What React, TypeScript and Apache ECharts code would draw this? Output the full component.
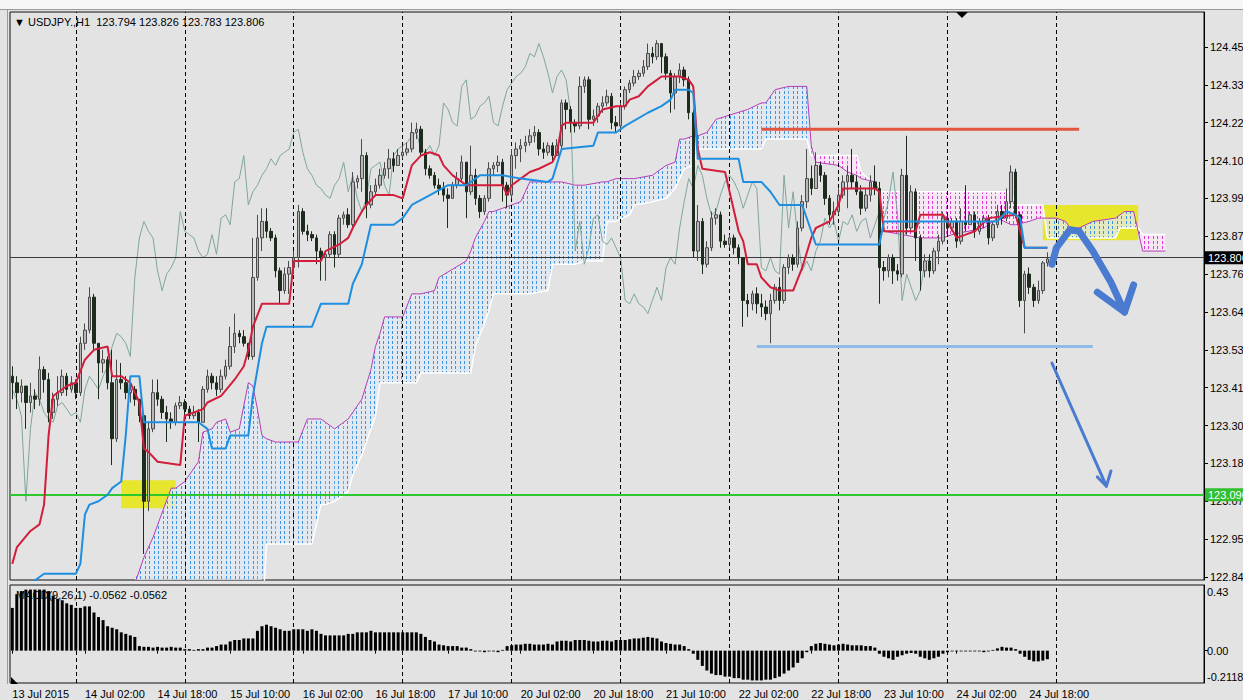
import { useEffect, useRef } from 'react';
import * as echarts from 'echarts';

const FONT = 'Liberation Sans, Arial, sans-serif';
const symbolName = 'USDJPY.,H1';
const firstBarTime = Date.UTC(2015, 6, 13, 10, 0);
const futureSlots = 34;
const firstOpen = 123.45;

const closes = [
  123.43,123.40,123.42,123.37,123.39,123.38,123.47,123.44,123.34,123.38,
  123.40,123.45,123.41,123.43,123.40,123.55,123.59,123.69,123.55,123.49,
  123.50,123.43,123.26,123.44,123.43,123.40,123.41,123.38,123.33,123.07,
  123.29,123.40,123.38,123.34,123.32,123.31,123.36,123.37,123.35,123.33,
  123.34,123.31,123.41,123.45,123.43,123.41,123.45,123.48,123.54,123.58,
  123.57,123.55,123.51,123.75,123.87,123.92,123.89,123.87,123.77,123.71,
  123.76,123.78,123.81,123.95,123.89,123.88,123.87,123.83,123.81,123.82,
  123.88,123.82,123.93,123.94,123.91,124.04,124.05,124.12,123.97,124.01,
  124.03,124.06,124.08,124.11,124.09,124.12,124.13,124.14,124.19,124.20,
  124.13,124.08,124.06,124.03,124.02,124.00,123.99,124.03,124.05,124.10,
  124.01,124.06,123.99,123.95,123.99,124.08,124.09,124.10,124.03,124.00,
  124.12,124.14,124.15,124.16,124.18,124.19,124.14,124.13,124.15,124.12,
  124.15,124.28,124.26,124.22,124.21,124.33,124.35,124.23,124.24,124.27,
  124.28,124.30,124.22,124.21,124.27,124.32,124.34,124.36,124.37,124.39,
  124.43,124.42,124.46,124.42,124.37,124.31,124.36,124.38,124.35,124.25,
  123.83,123.92,123.79,123.84,123.93,123.94,123.86,123.85,123.87,123.84,
  123.81,123.68,123.67,123.70,123.67,123.66,123.64,123.68,123.72,123.68,
  123.78,123.81,123.79,123.90,123.98,124.05,124.02,124.09,124.06,123.99,
  123.94,123.95,124.00,124.04,124.06,124.04,124.01,123.96,124.00,124.04,
  124.02,123.78,123.77,123.81,123.77,123.76,124.06,123.90,124.01,123.87,
  123.77,123.80,123.77,123.83,123.86,123.93,123.90,123.92,123.86,123.92,
  123.91,123.94,123.89,123.92,123.93,123.87,123.91,123.95,123.93,123.98,
  124.07,123.94,123.68,123.76,123.72,123.68,123.71,123.794,123.806,
];

const highs = [
  123.48,123.45,123.44,123.42,123.43,123.41,123.51,123.48,123.46,123.40,
  123.45,123.47,123.46,123.45,123.44,123.57,123.61,123.72,123.70,123.55,
  123.53,123.51,123.53,123.50,123.49,123.45,123.43,123.42,123.38,123.34,
  123.31,123.44,123.44,123.39,123.36,123.34,123.37,123.39,123.38,123.36,
  123.36,123.35,123.42,123.47,123.46,123.45,123.47,123.50,123.60,123.64,
  123.59,123.59,123.55,123.87,123.94,123.96,123.96,123.90,123.88,123.78,
  123.78,123.80,123.83,123.97,123.96,123.91,123.89,123.88,123.84,123.83,
  123.89,123.89,123.94,123.95,123.96,124.07,124.06,124.17,124.13,124.03,
  124.05,124.08,124.10,124.14,124.13,124.14,124.15,124.16,124.22,124.22,
  124.21,124.14,124.09,124.07,124.05,124.04,124.02,124.04,124.07,124.12,
  124.10,124.15,124.08,124.00,124.00,124.10,124.10,124.12,124.11,124.04,
  124.14,124.16,124.17,124.18,124.20,124.21,124.20,124.16,124.16,124.16,
  124.17,124.29,124.29,124.27,124.23,124.36,124.36,124.36,124.26,124.28,
  124.30,124.32,124.31,124.24,124.28,124.33,124.35,124.38,124.38,124.41,
  124.46,124.45,124.47,124.46,124.43,124.38,124.37,124.40,124.39,124.36,
  124.26,123.97,123.93,123.86,123.95,123.96,123.95,123.88,123.88,123.88,
  123.85,123.81,123.70,123.71,123.72,123.70,123.68,123.70,123.73,123.75,
  123.79,123.82,123.82,123.92,124.00,124.14,124.09,124.13,124.10,124.07,
  124.00,123.98,124.02,124.06,124.09,124.14,124.06,124.03,124.02,124.06,
  124.09,124.04,123.80,123.82,123.82,123.79,124.08,124.18,124.03,124.02,
  123.88,123.82,123.82,123.84,123.88,123.95,123.94,123.93,123.93,123.96,
  124.03,123.95,123.95,123.93,123.94,123.94,123.92,123.97,123.97,124.02,
  124.09,124.08,123.95,123.77,123.78,123.73,123.74,123.80,123.826,
];

const lows = [
  123.38,123.35,123.37,123.29,123.34,123.35,123.36,123.40,123.31,123.32,
  123.36,123.39,123.39,123.40,123.38,123.39,123.53,123.58,123.53,123.38,
  123.46,123.41,123.18,123.25,123.41,123.38,123.37,123.36,123.31,122.91,
  123.04,123.28,123.36,123.32,123.25,123.29,123.30,123.35,123.33,123.32,
  123.32,123.25,123.31,123.40,123.41,123.39,123.40,123.44,123.47,123.52,
  123.55,123.54,123.50,123.50,123.74,123.83,123.87,123.86,123.75,123.67,
  123.70,123.70,123.76,123.78,123.88,123.86,123.86,123.79,123.74,123.74,
  123.81,123.78,123.81,123.91,123.90,123.90,124.02,124.01,123.93,123.96,
  124.00,124.02,124.05,124.05,124.07,124.09,124.11,124.12,124.13,124.17,
  124.12,124.06,124.05,124.02,124.00,123.98,123.90,123.99,124.02,124.04,
  123.93,124.00,123.97,123.93,123.94,123.98,124.06,124.07,123.98,123.96,
  123.99,124.08,124.10,124.13,124.15,124.16,124.12,124.11,124.12,124.10,
  124.12,124.14,124.20,124.19,124.19,124.20,124.31,124.20,124.21,124.22,
  124.25,124.27,124.20,124.19,124.20,124.26,124.31,124.33,124.35,124.36,
  124.38,124.40,124.41,124.37,124.35,124.25,124.26,124.34,124.33,124.23,
  123.81,123.80,123.76,123.78,123.83,123.91,123.84,123.84,123.84,123.82,
  123.79,123.60,123.63,123.65,123.64,123.63,123.62,123.55,123.67,123.65,
  123.67,123.76,123.77,123.78,123.89,123.96,124.00,124.02,124.04,123.97,
  123.91,123.91,123.94,123.99,123.96,124.02,124.00,123.94,123.95,123.98,
  124.00,123.67,123.74,123.75,123.73,123.74,123.75,123.88,123.89,123.80,
  123.71,123.75,123.75,123.76,123.79,123.85,123.88,123.89,123.84,123.85,
  123.89,123.91,123.87,123.88,123.90,123.85,123.86,123.90,123.91,123.92,
  123.96,123.93,123.66,123.58,123.70,123.66,123.67,123.70,123.783,
];

const macd = [
  0.28,0.37,0.39,0.40,0.40,0.40,0.40,0.40,0.39,0.36,0.34,0.33,0.31,0.30,
  0.28,0.28,0.29,0.29,0.25,0.22,0.20,0.16,0.15,0.14,0.12,0.11,0.10,0.09,
  0.03,0.025,0.025,0.02,0.025,0.02,0.02,0.025,0.02,0.02,0.01,0.01,0.005,0.01,0.01,
  0.02,0.02,0.03,0.04,0.04,0.06,0.07,0.07,0.08,0.08,0.08,
  0.13,0.16,0.17,0.16,0.15,0.14,0.13,0.13,
  0.14,0.14,0.14,0.13,0.14,0.13,0.11,0.10,0.10,0.10,0.10,0.10,0.11,0.11,
  0.12,0.12,0.12,0.13,0.12,0.12,0.12,0.12,0.12,0.12,0.12,0.12,0.12,0.12,0.11,
  0.09,0.07,0.06,0.04,0.035,0.03,0.03,0.03,0.02,0.02,0.01,
  -0.005,-0.005,-0.01,-0.005,-0.005,-0.01,0.005,
  0.03,0.035,0.04,0.04,0.045,0.045,0.04,0.04,0.04,0.045,0.04,
  0.06,0.065,0.065,0.06,0.07,0.07,0.07,0.065,0.06,0.06,0.065,0.065,0.06,0.07,0.07,
  0.07,0.075,0.08,0.08,0.085,0.09,0.085,0.08,0.06,0.05,0.045,0.04,0.04,0.03,0.01,
  -0.02,-0.06,-0.10,-0.13,-0.15,-0.16,-0.16,-0.17,
  -0.17,-0.18,-0.18,-0.19,-0.19,-0.195,-0.195,-0.195,-0.19,-0.19,-0.18,-0.17,-0.15,-0.13,-0.11,-0.08,-0.05,-0.01,
  0.03,0.045,0.05,0.045,0.04,0.035,
  0.04,0.045,0.04,0.035,0.035,0.035,0.03,0.03,0.02,
  -0.02,-0.04,-0.05,-0.06,-0.04,-0.03,-0.02,
  -0.015,-0.02,-0.04,-0.05,-0.06,-0.05,-0.04,
  -0.02,-0.01,-0.005,-0.005,-0.005,-0.005,-0.005,-0.005,-0.005,-0.01,-0.005,0.005,
  0.015,0.025,0.02,0.02,0.01,
  -0.02,-0.04,-0.06,-0.07,-0.07,-0.065,-0.0562,
];
const macdName = 'MACD(9,26,1)';

const tenkan = [
  [0,122.88],[1,122.93],[4,122.98],[6,123.00],[7,123.06],[8,123.27],[9,123.39],[12,123.42],[14,123.43],[16,123.50],
  [18,123.53],[21,123.54],[22,123.45],[24,123.45],[26,123.43],[28,123.37],[29,123.23],[30,123.22],[32,123.19],[37,123.18],
  [38,123.33],[42,123.35],[43,123.37],[46,123.39],[49,123.44],[51,123.48],[52,123.53],[53,123.60],[55,123.67],[61,123.67],
  [62,123.80],[68,123.80],[69,123.83],[72,123.85],[74,123.87],[75,123.90],[77,123.95],[78,123.97],[80,124.00],[84,124.00],
  [86,123.99],[88,124.09],[90,124.12],[92,124.13],[94,124.12],[95,124.09],[97,124.06],[98,124.05],[100,124.03],[108,124.03],
  [109,124.00],[110,124.03],[112,124.05],[114,124.07],[116,124.08],[119,124.10],[120,124.13],[121,124.21],[122,124.22],[128,124.22],
  [129,124.24],[130,124.26],[133,124.27],[135,124.27],[136,124.29],[138,124.30],[140,124.33],[142,124.35],[143,124.36],[147,124.36],
  [149,124.35],[150,124.33],[151,124.14],[152,124.08],[157,124.07],[158,124.01],[160,123.89],[161,123.86],[162,123.79],[164,123.79],
  [165,123.75],[167,123.72],[169,123.71],[172,123.71],[174,123.78],[176,123.87],[177,123.90],[180,123.92],[182,123.97],[183,124.02],
  [190,124.02],[191,124.01],[192,123.89],[199,123.89],[200,123.94],[205,123.94],[206,123.92],[208,123.87],[210,123.88],[212,123.89],
  [215,123.93],[221,123.94],[223,123.84],[228,123.84],
];

const kijun = [
  [0,122.81],[4,122.82],[7,122.85],[14,122.85],[15,122.88],[16,123.03],[17,123.06],[19,123.07],[21,123.09],[22,123.11],
  [24,123.13],[25,123.27],[26,123.45],[28,123.45],[29,123.31],[41,123.31],[43,123.29],[44,123.23],[47,123.23],[48,123.27],
  [52,123.27],[53,123.39],[55,123.55],[56,123.60],[66,123.60],[68,123.67],[74,123.67],[75,123.73],[77,123.79],[78,123.85],
  [79,123.91],[84,123.91],[86,123.93],[88,123.97],[92,124.00],[96,124.03],[100,124.03],[103,124.06],[108,124.06],[112,124.05],
  [118,124.04],[119,124.05],[121,124.14],[128,124.15],[129,124.19],[133,124.19],[135,124.21],[140,124.25],[143,124.27],[145,124.29],
  [146,124.32],[149,124.32],[150,124.31],[151,124.11],[160,124.11],[161,124.04],[165,124.04],[167,124.01],[169,123.97],[174,123.97],
  [177,123.85],[191,123.85],[192,123.92],[217,123.92],[219,123.95],[221,123.94],[222,123.93],[223,123.84],[228,123.84],
];

const cloudBars = [
  26,27,29,31,35,36,38,41,42,44,
  45,47,48,50,52,53,54,55,56,58,
  63,65,66,68,69,71,73,74,75,77,
  79,80,81,82,86,88,89,90,93,94,
  100,101,102,104,105,106,108,110,112,114,
  118,119,121,124,126,130,131,133,136,137,
  141,144,146,147,148,150,151,153,155,162,
  165,166,168,171,175,176,177,182,184,186,
  187,190,191,192,196,200,205,207,214,217,
  220,221,224,226,227,228,230,232,233,235,
  238,243,244,245,247,248,249,254,
];
const spanA = [
  122.70,122.82,122.90,122.96,123.11,123.11,123.13,123.19,123.28,123.29,
  123.31,123.32,123.28,123.29,123.43,123.42,123.35,123.27,123.26,123.25,
  123.25,123.32,123.32,123.32,123.31,123.29,123.31,123.32,123.34,123.38,
  123.47,123.54,123.58,123.63,123.63,123.70,123.70,123.70,123.71,123.75,
  123.80,123.83,123.87,123.92,123.95,123.95,123.96,123.97,123.98,124.04,
  124.04,124.04,124.04,124.03,124.03,124.04,124.04,124.05,124.05,124.05,
  124.06,124.09,124.10,124.17,124.17,124.18,124.18,124.19,124.23,124.26,
  124.28,124.28,124.32,124.33,124.33,124.15,124.10,124.09,124.07,124.06,
  124.05,124.04,124.01,123.89,123.88,123.87,123.87,123.88,123.90,123.93,
  123.91,123.91,123.92,123.93,123.93,123.93,123.93,123.92,123.90,123.90,
  123.92,123.93,123.94,123.95,123.95,123.89,123.83,123.83,
];
const spanB = [
  122.70,122.70,122.70,122.70,122.70,122.70,122.70,122.70,122.70,122.70,
  122.70,122.70,122.70,122.70,122.70,122.70,122.70,122.70,122.94,122.94,
  122.94,122.94,122.94,123.06,123.06,123.07,123.09,123.10,123.15,123.21,
  123.29,123.33,123.43,123.43,123.43,123.43,123.43,123.46,123.46,123.46,
  123.46,123.46,123.54,123.61,123.65,123.70,123.70,123.70,123.70,123.70,
  123.71,123.79,123.79,123.79,123.80,123.80,123.92,123.92,123.94,123.97,
  123.98,123.99,124.02,124.05,124.08,124.09,124.14,124.14,124.14,124.14,
  124.14,124.17,124.17,124.17,124.17,124.12,124.12,124.12,124.12,124.12,
  124.07,124.03,124.01,124.01,124.01,124.01,124.01,124.01,124.01,124.01,
  124.01,123.97,123.97,123.97,123.97,123.87,123.87,123.87,123.87,123.87,
  123.87,123.87,123.90,123.90,123.90,123.90,123.88,123.88,
];
const chikouShift = 26;

const priceTicks = [122.840,122.955,123.070,123.185,123.300,123.415,123.530,123.645,123.760,123.875,123.990,124.105,124.220,124.335,124.450];
const priceMin = 122.831;
const priceMax = 124.556;
const macdMax = 0.43;
const macdMin = -0.2118;
const macdTicks = [macdMax, 0, macdMin];
const firstLabel = '13 Jul 2015';
const xTickLabels = ['14 Jul 02:00','14 Jul 18:00','15 Jul 10:00','16 Jul 02:00','16 Jul 18:00','17 Jul 10:00','20 Jul 02:00','20 Jul 18:00','21 Jul 10:00','22 Jul 02:00','22 Jul 18:00','23 Jul 10:00','24 Jul 02:00','24 Jul 18:00'];

const greenLevel = 123.09;
const redLevel = [[165,124.20],[235,124.20]];
const blueLevel = [[164,123.54],[238,123.54]];
const yellowBoxA = [[24,123.134],[36,123.049]];
const yellowBoxB = [[227,123.970],[248,123.863]];
const curveArrow = [[229,123.79],[230,123.84],[233,123.895],[235,123.89],[238,123.83],[242,123.735],[245,123.645]];
const curveHead = [[239,123.705],[245,123.645],[247,123.727]];
const straightArrow = [[229,123.49],[241,123.116]];
const straightHead = [[239,123.144],[241,123.116],[242,123.162]];

const MONTHS = ['Jan','Feb','Mar','Apr','May','Jun','Jul','Aug','Sep','Oct','Nov','Dec'];
function buildCategories(n: number): string[] {
  const out: string[] = [];
  let t = firstBarTime;
  while (out.length < n) {
    const d = new Date(t);
    const wd = d.getUTCDay();
    if (wd !== 0 && wd !== 6) {
      const hh = String(d.getUTCHours()).padStart(2, '0');
      out.push(`${d.getUTCDate()} ${MONTHS[d.getUTCMonth()]} ${hh}:00`);
    }
    t += 3600000;
  }
  return out;
}

function dotPattern(bg: string, dot: string) {
  const w = 9, h = 5;
  const c = document.createElement('canvas');
  c.width = w; c.height = h;
  const g = c.getContext('2d')!;
  g.clearRect(0, 0, w, h);
  g.fillStyle = bg; g.fillRect(0, 0, w, h);
  g.fillStyle = dot;
  g.fillRect(1, 1, 1, 3);
  g.fillRect(5, 1, 1, 3);
  return { image: c.toDataURL(), repeat: 'repeat', imageWidth: w, imageHeight: h };
}

export default function App() {
  const ref = useRef<HTMLDivElement>(null);
  useEffect(() => {
    if (!ref.current) return;
    const chart = echarts.init(ref.current, null, { renderer: 'svg' });
    const n = closes.length;
    const categories = buildCategories(n + futureSlots);
    const tickSet = new Set(xTickLabels);
    const showLabel = (idx: number, val: string) => idx === 0 || tickSet.has(val);
    const dayIdx = categories.map((c, i) => (c.endsWith(' 00:00') && i <= n + 1 ? i : -1)).filter((i) => i >= 0);
    const candles = closes.map((c, i) => [i === 0 ? firstOpen : closes[i - 1], c, lows[i], highs[i]]);
    const chikou = closes.slice(chikouShift).map((c, i) => [i, c]);
    const segs = cloudBars.slice(0, -1).map((b, k) => [b, spanA[k], spanB[k], cloudBars[k + 1], spanA[k + 1], spanB[k + 1]]);
    const bluePat = dotPattern('rgba(226,234,244,0.75)', '#3f93de');
    const pinkPat = dotPattern('rgba(250,232,248,0.85)', '#e23ad6');
    const lastOpen = closes[n - 2];
    const title = `▼ ${symbolName}  ${[lastOpen, highs[n - 1], lows[n - 1], closes[n - 1]].map((v) => v.toFixed(3)).join(' ')}`;
    const lastMacd = macd[macd.length - 1].toFixed(4);
    const dayLine = (xi: number, yi: number) => ({
      type: 'line', xAxisIndex: xi, yAxisIndex: yi, data: [], z: 1, silent: true,
      markLine: {
        symbol: 'none', silent: true, animation: false, label: { show: false },
        lineStyle: { color: '#000', type: [4, 3], width: 1 },
        data: dayIdx.map((i) => ({ xAxis: categories[i] })),
      },
    });
    const macdFmt = (v: number) => {
      if (Math.abs(v - macdMax) < 1e-9) return `{t|${v}}`;
      if (Math.abs(v - macdMin) < 1e-9) return `{b|${v}}`;
      return '0.00';
    };

    const option: any = {
      animation: false,
      backgroundColor: '#e3e3e3',
      textStyle: { fontFamily: FONT, fontSize: 11, color: '#000' },
      grid: [
        { left: 10, right: 39, top: 12, height: 568, outerBoundsMode: 'none', containLabel: false, show: true, backgroundColor: '#e3e3e3', borderColor: '#111', borderWidth: 1 },
        { left: 10, right: 39, top: 585, height: 98, outerBoundsMode: 'none', containLabel: false, show: true, backgroundColor: '#e3e3e3', borderColor: '#111', borderWidth: 1 },
      ],
      xAxis: [
        { type: 'category', gridIndex: 0, data: categories, axisLine: { show: false }, axisTick: { show: false }, axisLabel: { show: false }, splitLine: { show: false } },
        {
          type: 'category', gridIndex: 1, data: categories, axisLine: { show: false },
          axisTick: { show: true, interval: showLabel, alignWithLabel: true, length: 3, lineStyle: { color: '#000' } },
          axisLabel: { interval: showLabel, formatter: (v: string, i: number) => (i === 0 ? firstLabel : v), align: 'left', margin: 5, color: '#000', fontSize: 11, fontFamily: FONT },
          splitLine: { show: false },
        },
      ],
      yAxis: [
        {
          type: 'value', gridIndex: 0, position: 'right', min: priceMin, max: priceMax,
          axisLine: { show: true, lineStyle: { color: '#000' } },
          axisTick: { show: true, customValues: priceTicks, length: 4, lineStyle: { color: '#000' } },
          axisLabel: { customValues: priceTicks, formatter: (v: number) => v.toFixed(3), margin: 6, color: '#000', fontSize: 11, fontFamily: FONT },
          splitLine: { show: false },
        },
        {
          type: 'value', gridIndex: 1, position: 'right', min: macdMin, max: macdMax,
          axisLine: { show: true, lineStyle: { color: '#000' } },
          axisTick: { show: true, customValues: [0], length: 4, lineStyle: { color: '#000' } },
          axisLabel: {
            customValues: macdTicks, formatter: macdFmt, margin: 3, color: '#000', fontSize: 11, fontFamily: FONT,
            rich: {
              t: { fontSize: 11, fontFamily: FONT, color: '#000', padding: [14, 0, 0, 0] },
              b: { fontSize: 11, fontFamily: FONT, color: '#000', padding: [0, 0, 12, 0] },
            },
          },
          splitLine: { show: false },
        },
      ],
      graphic: [
        { type: 'rect', z: 100, shape: { x: 0, y: 0, width: 1243, height: 9 }, style: { fill: '#f6f6f6' } },
        { type: 'line', z: 100, shape: { x1: 0, y1: 9.5, x2: 1243, y2: 9.5 }, style: { stroke: '#9a9a9a', lineWidth: 1 } },
        { type: 'line', z: 100, shape: { x1: 7.5, y1: 9, x2: 7.5, y2: 684 }, style: { stroke: '#9a9a9a', lineWidth: 1 } },
        { type: 'text', z: 100, x: 14, y: 16, style: { text: title, font: `11px ${FONT}`, fill: '#000' } },
        { type: 'text', z: 1, x: 16, y: 589, style: { text: `${macdName} ${lastMacd} ${lastMacd}`, font: `11px ${FONT}`, fill: '#000' } },
        { type: 'polygon', z: 100, shape: { points: [[956, 12], [968, 12], [962, 18]] }, style: { fill: '#000' } },
        { type: 'polygon', z: 100, shape: { points: [[11, 677], [11, 684], [18, 684]] }, style: { fill: '#000' } },
      ],
      series: [
        dayLine(0, 0),
        dayLine(1, 1),
        {
          type: 'line', xAxisIndex: 0, yAxisIndex: 0, data: [], z: 2, silent: true,
          markArea: {
            silent: true, itemStyle: { color: '#e6e62c' },
            data: [yellowBoxA, yellowBoxB].map(([a, b]) => [{ coord: [categories[a[0]], a[1]] }, { coord: [categories[b[0]], b[1]] }]),
          },
        },
        {
          type: 'custom', xAxisIndex: 0, yAxisIndex: 0, z: 3, silent: true, clip: true,
          data: segs,
          encode: { x: [0, 3], y: [1, 2, 4, 5] },
          renderItem: (params: any, api: any) => {
            const cs = params.coordSys;
            const top = cs.y, bot = cs.y + cs.height;
            const cl = (p: number[]) => [p[0], Math.max(top, Math.min(bot, p[1]))];
            const x0 = api.value(0), a0 = api.value(1), b0 = api.value(2);
            const x1 = api.value(3), a1 = api.value(4), b1 = api.value(5);
            const A0 = api.coord([x0, a0]), B0 = api.coord([x0, b0]);
            const A1 = api.coord([x1, a1]), B1 = api.coord([x1, b1]);
            const d0 = a0 - b0, d1 = a1 - b1;
            const children: any[] = [];
            const poly = (pts: number[][], bull: boolean) => children.push({
              type: 'polygon', shape: { points: pts.map(cl) },
              style: { fill: bull ? bluePat : pinkPat, stroke: null },
            });
            if (d0 * d1 >= 0) {
              poly([A0, A1, B1, B0], d0 + d1 >= 0);
            } else {
              const t = d0 / (d0 - d1);
              const M = [A0[0] + t * (A1[0] - A0[0]), A0[1] + t * (A1[1] - A0[1])];
              poly([A0, M, B0], d0 > 0);
              poly([M, A1, B1], d1 > 0);
            }
            return { type: 'group', children };
          },
        },
        {
          type: 'line', xAxisIndex: 0, yAxisIndex: 0, z: 4, silent: true, symbol: 'none',
          data: cloudBars.map((b, k) => [b, spanB[k]]), lineStyle: { color: '#ffffff', width: 1.5 },
        },
        {
          type: 'line', xAxisIndex: 0, yAxisIndex: 0, z: 4, silent: true, symbol: 'none',
          data: cloudBars.map((b, k) => [b, spanA[k]]), lineStyle: { color: '#b83cb8', width: 1 },
        },
        {
          type: 'line', xAxisIndex: 0, yAxisIndex: 0, z: 4, silent: true, symbol: 'none',
          data: chikou, lineStyle: { color: '#7ea69e', width: 1 },
        },
        {
          type: 'candlestick', xAxisIndex: 0, yAxisIndex: 0, z: 5, silent: true, barWidth: 3,
          data: candles,
          itemStyle: { color: '#b8b8b8', color0: '#1e2c1e', borderColor: '#4a4a4a', borderColor0: '#1e2c1e', borderWidth: 1 },
        },
        {
          type: 'line', xAxisIndex: 0, yAxisIndex: 0, z: 6, silent: true, symbol: 'none',
          data: tenkan, lineStyle: { color: '#d21e3c', width: 2 },
        },
        {
          type: 'line', xAxisIndex: 0, yAxisIndex: 0, z: 6, silent: true, symbol: 'none',
          data: kijun, lineStyle: { color: '#1e8fe0', width: 2 },
        },
        {
          type: 'line', xAxisIndex: 0, yAxisIndex: 0, data: [], z: 7, silent: true,
          markLine: {
            symbol: 'none', silent: true,
            data: [
              {
                yAxis: closes[n - 1], lineStyle: { color: '#3a3a3a', width: 1, type: 'solid' },
                label: { show: true, position: 'end', distance: 1, formatter: closes[n - 1].toFixed(3), color: '#fff', backgroundColor: '#000', padding: [1, 3, 1, 3], fontSize: 11, fontFamily: FONT },
              },
              {
                yAxis: greenLevel, lineStyle: { color: '#2ec82e', width: 2, type: 'solid' },
                label: { show: true, position: 'end', distance: 1, formatter: greenLevel.toFixed(3), color: '#fff', backgroundColor: '#2fbf2f', padding: [1, 3, 1, 3], fontSize: 11, fontFamily: FONT },
              },
            ],
          },
        },
        {
          type: 'lines', coordinateSystem: 'cartesian2d', xAxisIndex: 0, yAxisIndex: 0, polyline: true, z: 8, silent: true,
          data: [
            { coords: redLevel, lineStyle: { color: '#e2553e', width: 3, opacity: 1 } },
            { coords: blueLevel, lineStyle: { color: '#8fbbe9', width: 3, opacity: 1 } },
            { coords: curveArrow, lineStyle: { color: '#4a7bd0', width: 7, opacity: 1, cap: 'round', join: 'round' } },
            { coords: curveHead, lineStyle: { color: '#4a7bd0', width: 7, opacity: 1, cap: 'round', join: 'round' } },
            { coords: straightArrow, lineStyle: { color: '#4a7bd0', width: 3, opacity: 1, cap: 'round' } },
            { coords: straightHead, lineStyle: { color: '#4a7bd0', width: 3, opacity: 1, cap: 'round', join: 'round' } },
          ],
        },
        {
          type: 'bar', xAxisIndex: 1, yAxisIndex: 1, z: 2, silent: true, barWidth: 3,
          data: macd, itemStyle: { color: '#000' },
        },
      ],
    };
    chart.setOption(option);
    return () => chart.dispose();
  }, []);
  return <div ref={ref} style={{ position: 'absolute', left: 0, top: 0, width: 1243, height: 700, overflow: 'hidden' }} />;
}
